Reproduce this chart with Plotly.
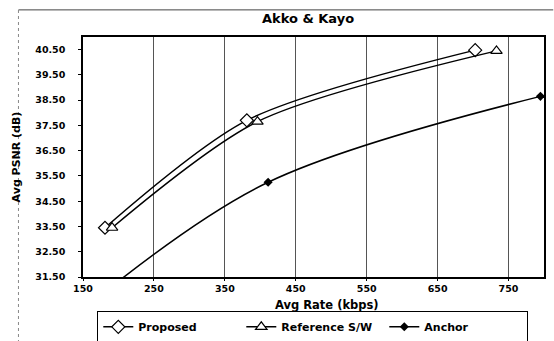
import plotly.graph_objects as go

title = "Akko & Kayo"
prop_x = [181, 381, 703]
prop_y = [33.45, 37.70, 40.48]
ref_x = [191, 396, 733]
ref_y = [33.45, 37.65, 40.45]
anc_x = [185, 411, 795]
anc_y = [31.00, 35.25, 38.65]
x_ticks = [150, 250, 350, 450, 550, 650, 750]
y_ticks = [31.5, 32.5, 33.5, 34.5, 35.5, 36.5, 37.5, 38.5, 39.5, 40.5]
x_title = "Avg Rate (kbps)"
y_title = "Avg PSNR (dB)"

FONT = "DejaVu Sans, sans-serif"

fig = go.Figure()
fig.add_trace(go.Scatter(
    x=prop_x, y=prop_y, name="Proposed", mode="lines+markers",
    line=dict(color="black", width=1.5, shape="spline", smoothing=0.8),
    marker=dict(symbol="diamond", size=10, color="white", line=dict(color="black", width=1.2)),
))
fig.add_trace(go.Scatter(
    x=ref_x, y=ref_y, name="Reference S/W", mode="lines+markers",
    line=dict(color="black", width=1.5, shape="spline", smoothing=0.8),
    marker=dict(symbol="triangle-up", size=10, color="white", line=dict(color="black", width=1.2)),
))
fig.add_trace(go.Scatter(
    x=anc_x, y=anc_y, name="Anchor", mode="lines+markers",
    line=dict(color="black", width=1.5, shape="spline", smoothing=1.0),
    marker=dict(symbol="diamond", size=7, color="black"),
))

fig.update_layout(
    width=554, height=341,
    margin=dict(l=83, r=10, t=37, b=64, autoexpand=False),
    paper_bgcolor="white", plot_bgcolor="white",
    font=dict(family=FONT, color="black", size=10),
    title=dict(text="<b>" + title + "</b>", x=0.556, xanchor="center", y=0.947, yanchor="middle",
               font=dict(size=13, family=FONT)),
    showlegend=True,
    legend=dict(orientation="h", x=0.031, xanchor="left", y=-0.143, yanchor="top",
                bordercolor="black", borderwidth=1, bgcolor="white",
                font=dict(size=11, family=FONT, weight="bold"), itemwidth=30, tracegroupgap=0,
                entrywidth=98, entrywidthmode="pixels"),
    xaxis=dict(range=[150, 800], tickvals=x_ticks, ticktext=["<b>%d</b>" % v for v in x_ticks],
               showgrid=True, gridcolor="#555555", gridwidth=1, zeroline=False,
               showline=True, linecolor="black", linewidth=1.5, mirror=True,
               ticks="outside", ticklen=2, tickcolor="black", ticklabelstandoff=0,
               tickfont=dict(size=9.5, family=FONT)),
    yaxis=dict(range=[31.5, 41.0], tickvals=y_ticks, ticktext=["<b>%.2f</b>" % v for v in y_ticks],
               showgrid=False, zeroline=False,
               showline=True, linecolor="black", linewidth=1.5, mirror=True,
               ticks="outside", ticklen=3, tickcolor="black", ticklabelstandoff=11,
               tickfont=dict(size=9.5, family=FONT),
               title=dict(text="<b>" + y_title + "</b>", font=dict(size=11, family=FONT), standoff=12)),
)

fig.add_annotation(text="<b>" + x_title + "</b>", xref="paper", yref="paper",
                   x=0.529, y=-0.115, xanchor="center", yanchor="middle", showarrow=False,
                   font=dict(size=11.5, family=FONT))

# outer chart frame (partially visible in the reference)
fig.add_shape(type="line", xref="paper", yref="paper", x0=-0.14, x1=1.02, y0=1.113, y1=1.113,
              line=dict(color="#444444", width=1))
fig.add_shape(type="line", xref="paper", yref="paper", x0=-0.14, x1=-0.14, y0=-0.3, y1=1.113,
              line=dict(color="#888888", width=1, dash="dot"))

fig.write_html("out.html")
